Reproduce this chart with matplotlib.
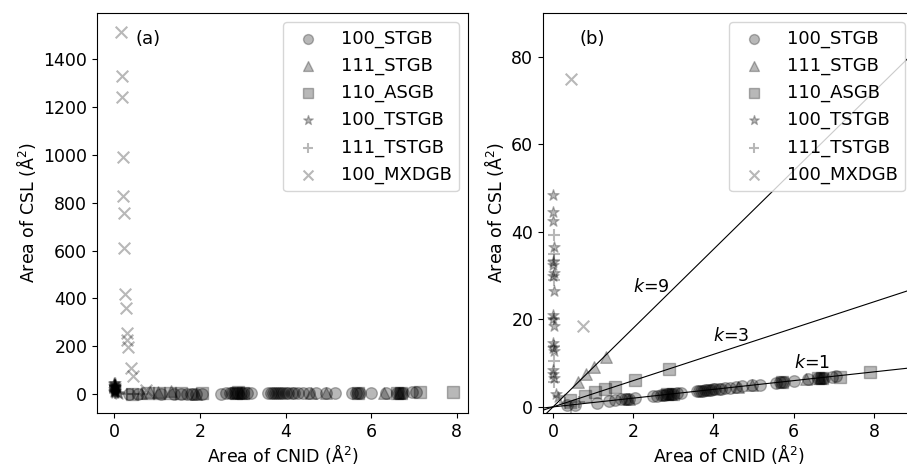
import matplotlib
matplotlib.use("Agg")
import matplotlib.pyplot as plt

# CNID area (x) and CSL area (y) for each grain boundary family
stgb100_x = [0.35, 0.55, 1.1, 1.4, 1.55, 1.7, 1.8, 1.85, 1.9, 2.05, 2.5, 2.6, 2.7,
             2.75, 2.8, 2.85, 2.9, 2.95, 3.0, 3.1, 3.2, 3.6, 3.65, 3.7, 3.75, 3.8,
             3.85, 3.9, 3.95, 4.0, 4.05, 4.15, 4.2, 4.3, 4.4, 4.55, 4.7, 4.95,
             5.15, 5.55, 5.65, 5.7, 5.75, 6.0, 6.35, 6.6, 6.65, 6.7, 6.75, 6.95, 7.05]
stgb100_y = [0.35, 0.5, 0.8, 1.3, 1.6, 1.7, 1.8, 1.8, 1.9, 2.0, 2.5, 2.6, 2.7,
             2.7, 2.8, 2.85, 2.9, 2.9, 3.0, 3.1, 3.2, 3.6, 3.65, 3.7, 3.7, 3.8,
             3.85, 3.9, 3.9, 4.0, 4.0, 4.1, 4.2, 4.3, 4.4, 4.5, 4.7, 4.9,
             5.1, 5.5, 5.6, 5.7, 5.7, 6.0, 6.3, 6.6, 6.6, 6.7, 6.7, 6.9, 7.0]

stgb111_x = [0.62, 0.83, 1.03, 1.32, 1.9, 2.95, 4.6, 4.95, 6.3, 6.65]
stgb111_y = [5.8, 7.6, 9.1, 11.5, 1.9, 3.0, 4.6, 4.9, 6.3, 6.6]

asgb110_x = [0.42, 0.8, 1.05, 1.3, 1.55, 2.05, 2.9, 2.85, 3.0, 5.7, 6.6, 6.7, 7.15, 7.9]
asgb110_y = [1.6, 2.6, 3.4, 4.0, 4.6, 6.2, 8.7, 2.9, 3.0, 5.6, 6.6, 6.7, 6.9, 7.9]

tstgb100_x = [0.0, 0.01, 0.0, 0.02, 0.01, 0.0, 0.02, 0.01, 0.02, 0.0, 0.01, 0.02,
              0.0, 0.01, 0.02, 0.0, 0.01, 0.03, 0.08, 0.12]
tstgb100_y = [48.5, 44.5, 42.5, 36.5, 33.0, 32.5, 30.5, 29.8, 26.5, 21.0, 20.0,
              18.5, 14.6, 13.5, 12.8, 8.5, 7.5, 6.5, 3.0, 2.3]

tstgb111_x = [0.02, 0.02, 0.03, 0.02, 0.02, 0.03, 0.03, 0.03, 0.45, 0.3, 0.65]
tstgb111_y = [39.3, 35.0, 33.5, 29.0, 20.0, 14.0, 10.5, 5.8, -0.2, 1.0, 1.1]

mxdgb100_x = [0.16, 0.19, 0.19, 0.2, 0.21, 0.22, 0.23, 0.26, 0.27, 0.3, 0.3,
              0.33, 0.39, 0.44, 0.75]
mxdgb100_y = [1515, 1330, 1243, 990, 830, 756, 612, 417, 358, 254, 226,
              198, 110, 75, 18.5]

series = [
    ("100_STGB", "o", stgb100_x, stgb100_y),
    ("111_STGB", "^", stgb111_x, stgb111_y),
    ("110_ASGB", "s", asgb110_x, asgb110_y),
    ("100_TSTGB", "*", tstgb100_x, tstgb100_y),
    ("111_TSTGB", "+", tstgb111_x, tstgb111_y),
    ("100_MXDGB", "x", mxdgb100_x, mxdgb100_y),
]

slopes = [9, 3, 1]
slope_label_pos = [(2.0, 27.5), (4.0, 16.2), (6.0, 10.1)]

plt.rcParams["font.size"] = 12.5

fig = plt.figure(figsize=(9.07, 4.68), dpi=100)
ax1 = fig.add_axes([0.107, 0.1175, 0.409, 0.8547])
ax2 = fig.add_axes([0.5987, 0.1175, 0.409, 0.8547])

for ax in (ax1, ax2):
    for name, mk, xs, ys in series:
        ax.scatter(xs, ys, marker=mk, s=70, color="k", alpha=0.28, label=name)
    ax.set_xlabel("Area of CNID (Å$^2$)", labelpad=1)
    ax.set_ylabel("Area of CSL (Å$^2$)")
    ax.legend(loc="upper right", fontsize=13, markerscale=0.85)

ax1.set_xlim(-0.4, 8.26)
ax1.set_ylim(-79, 1593)
ax1.set_xticks([0, 2, 4, 6, 8])
ax1.set_yticks(range(0, 1401, 200))
ax1.text(0.5, 1485, "(a)", va="center", fontsize=13)

# guide lines CSL = k * CNID
xline = [-1, 10]
for k, (tx, ty) in zip(slopes, slope_label_pos):
    ax2.plot(xline, [k * v for v in xline], color="k", lw=0.8, zorder=0.5)
    ax2.text(tx, ty, "$k$=%d" % k, va="center", fontsize=12.5)

ax2.set_xlim(-0.25, 9.0)
ax2.set_ylim(-1.4, 90)
ax2.set_xticks([0, 2, 4, 6, 8])
ax2.set_yticks([0, 20, 40, 60, 80])
ax2.text(0.65, 84, "(b)", va="center", fontsize=13)

fig.savefig("out.png", dpi=100)
